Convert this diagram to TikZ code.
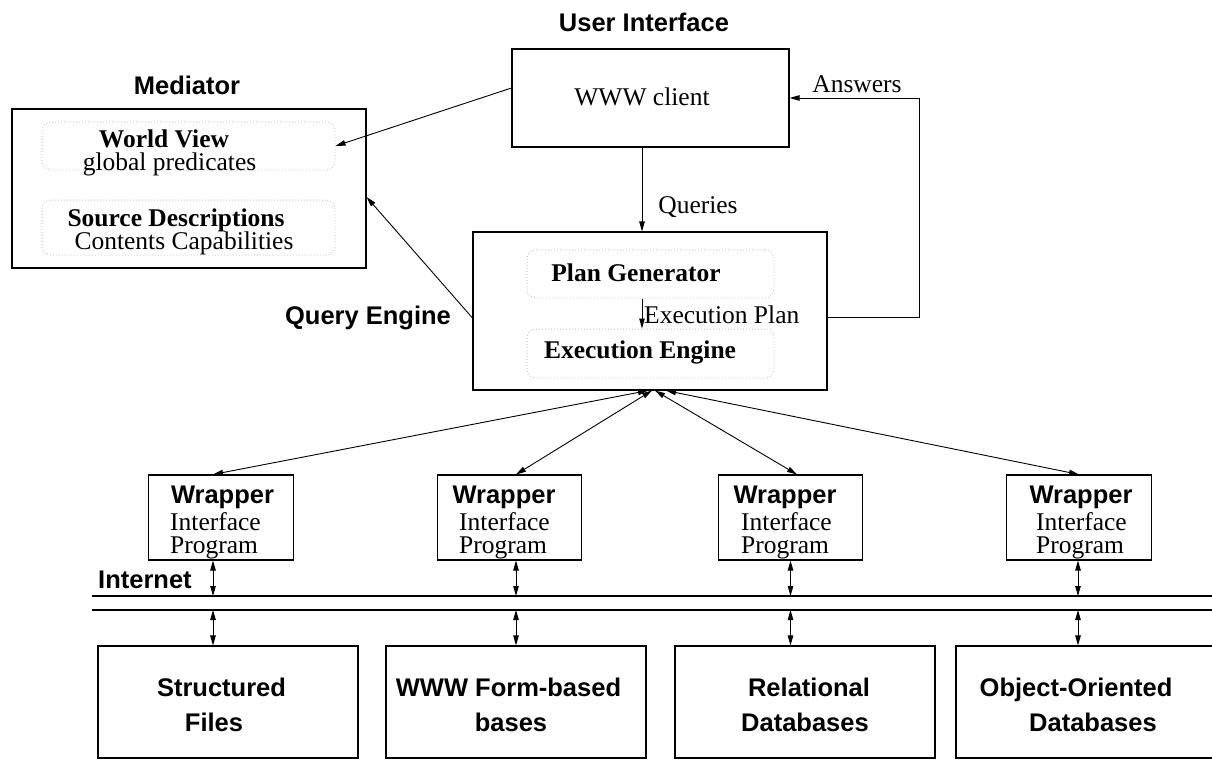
\documentclass[tikz,border=0pt]{standalone}
\usepackage{fontspec}
\setmainfont{Liberation Serif}
\newfontfamily\hv{Liberation Sans}
\usetikzlibrary{arrows.meta}
\begin{document}
\begin{tikzpicture}[x=1pt,y=-1pt,
  box/.style={draw, line width=1.1pt, inner sep=0pt},
  inbox/.style={draw=black!22, line width=1pt, dash pattern=on 0.8pt off 2.2pt, rounded corners=9pt, inner sep=0pt},
  tx/.style={font=\fontsize{25.5}{26}\selectfont, inner sep=0pt},
  bt/.style={font=\bfseries\fontsize{25.5}{26}\selectfont, inner sep=0pt},
  hd/.style={font=\hv\bfseries\fontsize{25.5}{26}\selectfont, inner sep=0pt},
  arr/.style={-{Triangle[length=10pt,width=5.5pt]}, line width=0.9pt},
  darr/.style={{Triangle[length=10pt,width=5.5pt]}-{Triangle[length=10pt,width=5.5pt]}, line width=0.9pt},
  net/.style={line width=1.1pt}
]
\useasboundingbox (0,0) rectangle (1212,760);
\clip (0,0) rectangle (1212,760);

% headers
\node[hd] (uihd) at (644,22) {User Interface};
\node[hd] (medhd) at (187,85) {Mediator};
\node[hd] (qehd) at (368,318) {Query Engine};
\node[hd, anchor=west] (nethd) at (98,580) {Internet};

% mediator
\node[box, minimum width=354, minimum height=159] (med) at (189,188.5) {};
\node[inbox, minimum width=293, minimum height=48] (wv) at (188.5,146) {};
\node[inbox, minimum width=293, minimum height=55] (sd) at (188.5,227.5) {};
\node[bt] (wvt1) at (164,139) {World View};
\node[tx] (wvt2) at (169.5,164) {global predicates};
\node[bt] (sdt1) at (176,220) {Source Descriptions};
\node[tx] (sdt2) at (184,243) {Contents Capabilities};

% user interface
\node[box, minimum width=277, minimum height=98] (wc) at (650.5,98) {};
\node[tx] (wct) at (642,97) {WWW client};

% query engine
\node[box, minimum width=354, minimum height=158] (qe) at (650,311) {};
\node[inbox, minimum width=247, minimum height=48] (pg) at (650.5,274) {};
\node[inbox, minimum width=247, minimum height=49] (ee) at (650.5,353.5) {};
\node[bt] (pgt) at (636,273) {Plan Generator};
\node[bt] (eet) at (640,352) {Execution Engine};
\node[tx, anchor=west] (eplbl) at (644,315) {Execution Plan};
\node[tx] (qlbl) at (698,207) {Queries};
\node[tx] (albl) at (857,84) {Answers};

% wrappers
\foreach \n/\cx in {w1/221,w2/509.5,w3/790.5,w4/1079}{
  \node[box, minimum width=144.5, minimum height=85] (\n) at (\cx,517.5) {};
}
\foreach \n/\wx/\lx in {w1/222.5/170,w2/504/459,w3/785/741,w4/1081/1036}{
  \node[hd, anchor=base] (\n a) at (\wx,503.5) {Wrapper};
  \node[tx, anchor=base west] (\n b) at (\lx,530.5) {Interface};
  \node[tx, anchor=base west] (\n c) at (\lx,553) {Program};
}

% internet
\coordinate (inetA) at (92,596);
\coordinate (inetAR) at (1212,596);
\coordinate (inetB) at (92,610);
\coordinate (inetBR) at (1212,610);
\draw[net] (inetA) -- (inetAR);
\draw[net] (inetB) -- (inetBR);

% databases
\node[box, minimum width=260, minimum height=112] (db1) at (228,702) {};
\node[box, minimum width=260, minimum height=112] (db2) at (516,702) {};
\node[box, minimum width=260, minimum height=112] (db3) at (805,702) {};
\node[box, minimum width=260, minimum height=112] (db4) at (1086,702) {};
\node[hd, anchor=base] (db1a) at (221.5,696) {Structured};
\node[hd, anchor=base] (db1b) at (214,731) {Files};
\node[hd, anchor=base] (db2a) at (508.5,696) {WWW Form-based};
\node[hd, anchor=base] (db2b) at (511,731) {bases};
\node[hd, anchor=base] (db3a) at (809,696) {Relational};
\node[hd, anchor=base] (db3b) at (805,731) {Databases};
\node[hd, anchor=base] (db4a) at (1076,696) {Object-Oriented};
\node[hd, anchor=base] (db4b) at (1093,731) {Databases};

% connectors
\draw[arr] ([xshift=-8.5pt]wc.south) -- ([xshift=-8pt]qe.north);
\draw[arr] ([xshift=-8.5pt]pg.south) -- ([xshift=-8.5pt]ee.north);
\draw[arr] ([yshift=-6pt]qe.east) -- ++(92,0) |- (wc.east);
\draw[arr] ([yshift=10pt]wc.west) -- (wv.east);
\draw[arr] ([yshift=-7pt]qe.west) -- ([yshift=-8.5pt]med.east);

\draw[darr] ([xshift=-8pt]w1.north) -- ([xshift=-2pt]qe.south);
\draw[darr] ([xshift=6.5pt]w2.north) -- ([xshift=2pt]qe.south);
\draw[darr] ([xshift=6.5pt]w3.north) -- ([xshift=5pt]qe.south);
\draw[darr] (w4.north) -- ([xshift=16pt]qe.south);

\foreach \n/\d/\s in {w1/db1/-8pt,w2/db2/6.5pt,w3/db3/0pt,w4/db4/-1pt}{
  \draw[darr] ([xshift=\s]\n.south) -- ([xshift=\s]\n.south |- inetA);
  \draw[darr] ([xshift=\s]\n.south |- inetB) -- ([xshift=\s]\n.south |- \d.north);
}
\end{tikzpicture}
\end{document}
